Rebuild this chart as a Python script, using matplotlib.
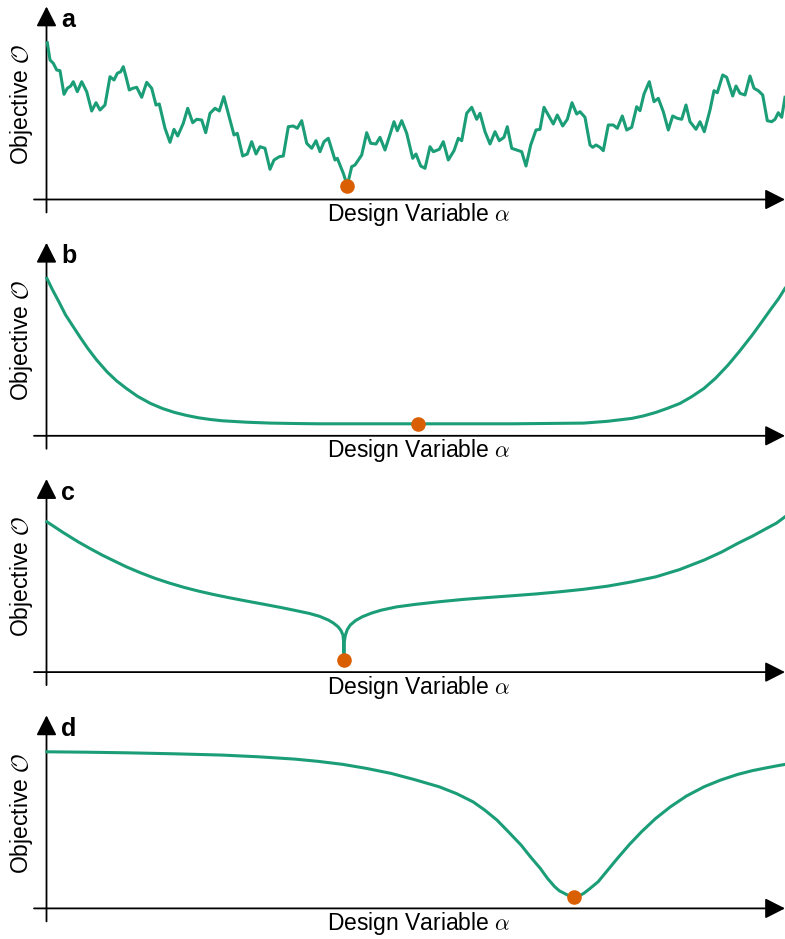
import matplotlib
matplotlib.use("Agg")
import matplotlib.pyplot as plt

plt.rcParams["font.family"] = ["Liberation Sans", "DejaVu Sans"]
plt.rcParams["mathtext.fontset"] = "cm"

GREEN = "#1b9e77"
ORANGE = "#d95f02"

# ---- panel a: rugged objective landscape -------------------------------
alpha_a = [0.8, 3.5, 6.8, 10.2, 13.5, 17.5, 20.8, 24.2, 26.8, 30.8, 35.2, 40.2,
           45.2, 49.5, 53.5, 58.5, 63.5, 67.5, 70.8, 74.2, 76.8, 79.5, 82.8,
           86.2, 90.2, 95.2, 100.2, 105.2, 109.5, 112.8, 118.5, 123.5, 127.5,
           131.2, 136.8, 141.2, 146.2, 150.2, 155.2, 159.2, 163.5, 168.5,
           172.8, 177.3, 182.8, 187.5, 190.8, 196.2, 200.8, 205.2, 209.5,
           213.5, 218.5, 223.5, 227.5, 232.8, 236.8, 241.8, 246.8, 250.8,
           255.2, 260.2, 265.2, 269.5, 273.5, 277.5, 281.8, 288.5, 290.8,
           296.8, 300.8, 305.2, 308.5, 315.2, 320.2, 324.2, 329.5, 333.5,
           338.5, 342.8, 347.5, 350.8, 355.2, 360.2, 366.2, 369.5, 374.2,
           378.5, 383.5, 386.8, 392.8, 396.8, 401.8, 407.5, 411.8, 415.2,
           420.2, 425.2, 430.2, 433.5, 438.5, 443.5, 448.5, 452.8, 457.5,
           460.8, 465.2, 470.2, 475.2, 479.5, 484.2, 489.5, 493.5, 497.5,
           501.8, 506.8, 510.8, 516.2, 520.8, 525.5, 530.2, 533.5, 538.5,
           543.5, 546.2, 549.5, 553.5, 556.8, 561.8, 566.8, 570.8, 575.8,
           580.2, 585.2, 590.2, 593.5, 597.5, 602.8, 607.5, 611.8, 616.8,
           621.8, 626.2, 630.8, 635.2, 639.5, 643.5, 649.5, 653.5, 657.8,
           663.5, 667.5, 670.8, 676.2, 680.2, 686.2, 689.5, 693.5, 698.5,
           703.5, 707.5, 711.8, 716.2, 720.8, 725.2, 728.5, 731.8, 735.2,
           738.5]
objective_a = [156.8, 139.5, 136.2, 129.5, 128.8, 105.2, 111.2, 113.5, 117.8,
               107.8, 117.8, 107.8, 88.5, 96.8, 89.5, 94.5, 122.8, 119.5,
               126.2, 127.8, 132.8, 122.8, 109.5, 111.2, 112.2, 102.2, 117.2,
               111.2, 94.5, 95.5, 71.2, 57.2, 70.2, 63.5, 76.2, 91.2, 76.8,
               80.2, 79.5, 66.8, 86.2, 91.2, 88.5, 102.8, 82.0, 64.5, 66.2,
               43.5, 45.5, 57.8, 45.5, 52.8, 51.2, 30.2, 39.5, 42.8, 43.5,
               72.8, 73.5, 71.2, 78.8, 56.2, 51.2, 58.8, 47.8, 57.8, 61.2,
               39.5, 41.2, 26.2, 14.0, 32.8, 34.5, 44.5, 66.8, 56.2, 55.5,
               62.2, 49.5, 62.8, 77.8, 68.8, 78.8, 66.2, 41.2, 45.5, 33.5,
               31.2, 52.8, 47.8, 50.2, 57.8, 39.5, 48.8, 61.2, 58.8, 86.2,
               92.2, 80.2, 86.2, 67.8, 55.5, 67.8, 58.8, 62.2, 72.8, 51.2,
               49.5, 47.8, 33.5, 54.5, 69.5, 70.2, 92.2, 84.5, 75.5, 84.5,
               73.5, 80.2, 96.8, 85.5, 87.8, 82.2, 54.5, 52.2, 54.5, 52.2,
               48.8, 74.5, 74.5, 71.2, 83.5, 69.5, 72.2, 92.8, 88.8, 105.5,
               117.8, 97.8, 101.2, 87.8, 69.5, 83.5, 81.2, 80.2, 94.5, 77.8,
               70.2, 77.8, 67.8, 89.5, 108.8, 106.8, 124.5, 122.2, 103.5,
               113.5, 106.2, 104.5, 123.5, 111.2, 108.8, 104.5, 78.8, 77.8,
               80.2, 86.8, 82.2, 102.2]

# ---- panel b: flat-bottomed basin ---------------------------------------
alpha_b = [0.4, 6.0, 12.4, 19.0, 26.8, 34.0, 41.3, 50.0, 60.5, 70.0, 79.8,
           91.0, 103.9, 116.0, 127.9, 140.0, 152.0, 164.0, 176.1, 200.0,
           224.2, 248.0, 272.4, 368.7, 465.0, 537.2, 561.0, 585.3, 597.0,
           609.4, 621.0, 633.5, 645.0, 657.5, 669.0, 681.5, 693.0, 705.7,
           715.0, 724.9, 732.0, 738.5]
objective_b = [157.4, 146.0, 134.0, 121.0, 109.0, 98.0, 87.4, 76.0, 64.0,
               55.0, 47.4, 39.5, 32.4, 27.3, 23.4, 20.4, 18.0, 16.3, 15.0,
               13.6, 12.7, 12.3, 12.0, 12.0, 12.0, 12.7, 14.5, 17.4, 19.9,
               23.4, 27.5, 32.4, 39.0, 47.4, 57.5, 70.7, 84.5, 100.7, 113.5,
               127.4, 137.0, 147.4]

# ---- panel c: cusp-shaped minimum ---------------------------------------
alpha_c = [0.4, 16.0, 31.6, 44.0, 55.7, 68.0, 79.8, 94.0, 108.7, 123.0, 137.6,
           152.0, 166.5, 183.0, 200.2, 217.0, 233.9, 248.0, 262.7, 273.0,
           282.0, 287.0, 291.6, 294.5, 296.5, 297.1, 297.4, 297.7, 298.9,
           300.8, 303.7, 309.0, 315.7, 325.0, 335.0, 350.0, 368.7, 392.0,
           416.8, 440.0, 465.0, 490.0, 513.1, 537.0, 561.3, 585.0, 609.4,
           633.0, 657.5, 675.0, 691.2, 706.0, 720.1, 730.0, 738.5]
objective_c = [150.3, 140.0, 130.3, 123.3, 117.0, 111.0, 105.3, 99.3, 93.7,
               89.0, 84.7, 81.0, 77.7, 74.3, 71.0, 67.9, 64.7, 61.8, 58.7,
               55.8, 52.0, 49.0, 45.3, 41.5, 37.0, 30.0, 12.0, 30.0, 37.0,
               42.5, 47.0, 51.5, 55.3, 59.0, 62.0, 65.2, 67.7, 70.3, 72.7,
               74.5, 76.3, 78.2, 80.3, 82.8, 86.0, 90.2, 95.3, 102.5, 112.0,
               120.0, 128.7, 136.0, 143.7, 149.0, 155.3]

# ---- panel d: narrow well on a plateau ----------------------------------
alpha_d = [0.4, 40.0, 79.8, 128.0, 176.1, 212.0, 248.3, 272.0, 296.5, 320.0,
           344.6, 368.0, 392.7, 410.0, 426.5, 438.0, 450.5, 462.0, 474.6,
           484.0, 493.8, 501.0, 508.3, 513.0, 517.9, 522.5, 527.5, 532.5,
           537.2, 543.0, 551.6, 561.0, 570.9, 583.0, 595.0, 609.0, 623.9,
           640.0, 657.5, 674.0, 691.2, 706.0, 720.1, 730.0, 738.5]
objective_d = [156.6, 156.2, 155.6, 154.6, 153.3, 151.6, 149.3, 147.0, 144.0,
               140.0, 135.0, 128.8, 121.6, 114.8, 106.6, 98.5, 88.3, 76.5,
               63.3, 51.5, 40.0, 30.0, 21.6, 17.5, 15.0, 12.6, 11.6, 12.6,
               15.0, 19.5, 26.6, 38.0, 50.0, 64.0, 76.6, 89.8, 101.6, 112.4,
               121.6, 128.3, 134.0, 137.8, 140.6, 142.5, 144.0]

# optimum of each landscape
optima = [(300.8, 14.0), (371.5, 12.0), (297.4, 12.0), (527.5, 11.6)]
panel_letters = ["a", "b", "c", "d"]
curves = [(alpha_a, objective_a), (alpha_b, objective_b),
          (alpha_c, objective_c), (alpha_d, objective_d)]

W, H = 785, 939
fig = plt.figure(figsize=(W / 100, H / 100), dpi=100)

x_left, x_right = 46.5, 785.0
ax_height = 193.0
first_base, spacing = 199.5, 236.3
x_span = x_right - x_left

arrow_kw = dict(arrowstyle="-|>,head_length=1.22,head_width=0.62",
                mutation_scale=10, lw=1.3, color="black",
                shrinkA=0, shrinkB=0)

for i, ((xs, ys), (ox, oy), letter) in enumerate(zip(curves, optima, panel_letters)):
    base = first_base + i * spacing
    ax = fig.add_axes([x_left / W, 1 - base / H, x_span / W, ax_height / H])
    ax.set_xlim(0, x_span)
    ax.set_ylim(0, ax_height)
    ax.axis("off")

    # axes drawn as arrows
    ax.annotate("", xy=(x_span, 0), xytext=(-12.5, 0), xycoords="data",
                arrowprops=arrow_kw, annotation_clip=False)
    ax.annotate("", xy=(0, ax_height), xytext=(0, -13), xycoords="data",
                arrowprops=arrow_kw, annotation_clip=False)

    ax.plot(xs, ys, color=GREEN, lw=2.2, clip_on=False, zorder=3,
            solid_joinstyle="round")
    ax.plot([ox], [oy], "o", color=ORANGE, ms=10.5, mec="none",
            clip_on=False, zorder=4)

    ax.text(372 / x_span, -21.5 / ax_height, r"Design Variable $\alpha$",
            transform=ax.transAxes, ha="center", va="baseline", fontsize=16.5)
    ax.text(-11.5 / x_span, 95.5 / ax_height, r"Objective $\mathcal{O}$",
            transform=ax.transAxes, ha="right", va="center", rotation=90,
            fontsize=16.5)
    ax.text(14.5 / x_span, 172.5 / ax_height, letter, transform=ax.transAxes,
            ha="left", va="baseline", fontsize=18, fontweight="bold")

fig.savefig("out.png", dpi=100)
